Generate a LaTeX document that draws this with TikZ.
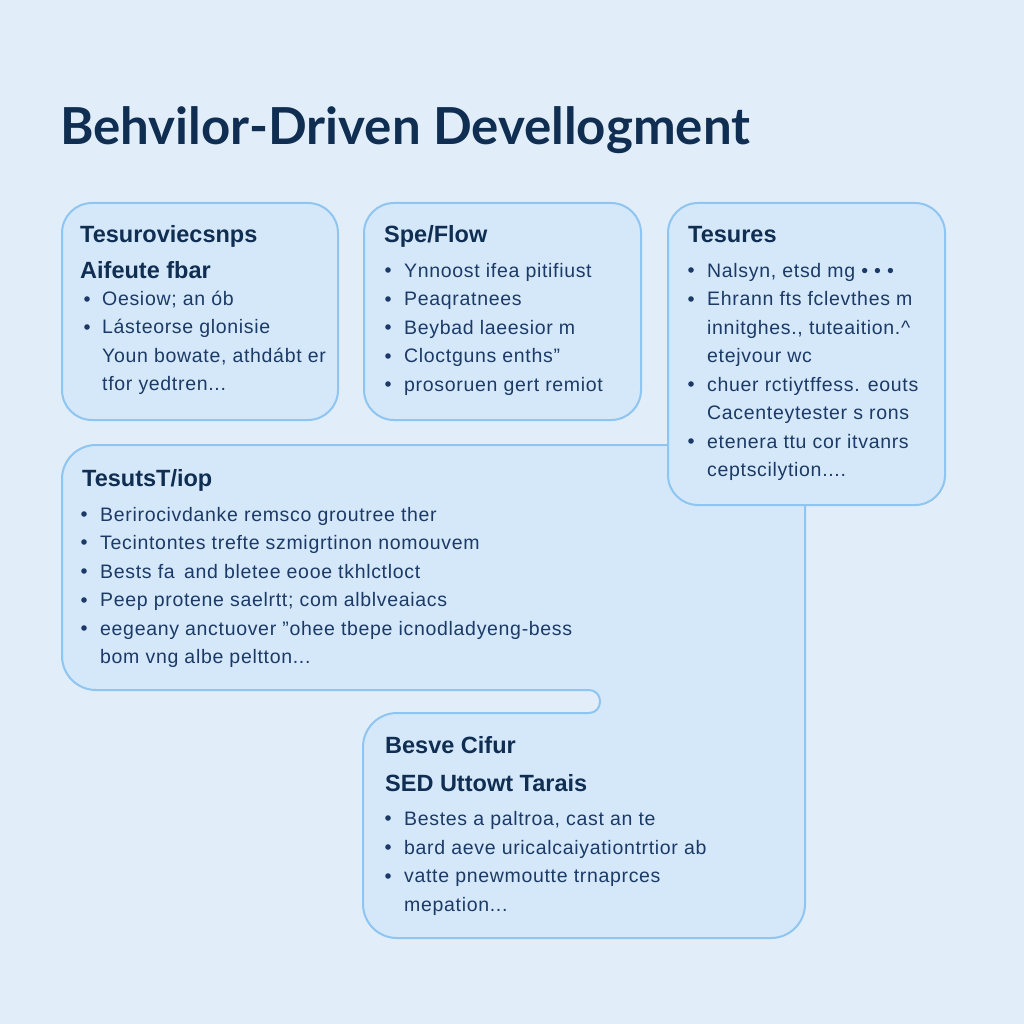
\documentclass[tikz,border=0pt]{standalone}
\usepackage{fontspec}
\setmainfont{Lato}
\newfontfamily\bodyfont[LetterSpace=3.5]{Liberation Sans}
\newfontfamily\headfont{Liberation Sans}
\definecolor{bgc}{HTML}{E1EDF9}
\definecolor{boxfill}{HTML}{D5E8FA}
\definecolor{boxline}{HTML}{8FC5F1}
\definecolor{headc}{HTML}{0F2E52}
\definecolor{bodyc}{HTML}{1B3A66}
\tikzset{
  card/.style={draw=boxline, fill=boxfill, line width=2pt},
  head/.style={anchor=base west, inner sep=0pt, text=headc, font=\headfont\fontsize{23.5}{26}\selectfont\bfseries},
  line/.style={anchor=base west, inner sep=0pt, text=bodyc, font=\bodyfont\fontsize{19.5}{22}\selectfont},
  dot/.style={fill=bodyc, draw=none},
}
\begin{document}
\begin{tikzpicture}[x=1pt,y=-1pt]
\fill[bgc] (0,0) rectangle (1024,1024);
\useasboundingbox (0,0) rectangle (1024,1024);

% title
\node[anchor=base west, inner sep=0pt, text=headc, font=\fontsize{51}{56}\selectfont\bfseries] (title) at (60,145) {Behvilor-Driven Devellogment};

% big merged shape (middle + bottom boxes)
\draw[card] (62,480) [rounded corners=34] -- (62,445) -- (805,445) -- (805,938) -- (363,938) -- (363,713) [rounded corners=11] -- (600,713) -- (600,690) [rounded corners=34] -- (62,690) [sharp corners] -- cycle;

% top cards
\draw[card, rounded corners=30] (62,203) rectangle (338,420);
\draw[card, rounded corners=30] (364,203) rectangle (641,420);
\draw[card, rounded corners=30] (668,203) rectangle (945,505);

% box 1
\node[head] (a0) at (80,242) {Tesuroviecsnps};
\node[head] (a1) at (80,278) {Aifeute fbar};
\fill[dot] (87,299) circle (2.8);
\node[line] (a2) at (102,305) {Oesiow; an ób};
\fill[dot] (87,327) circle (2.8);
\node[line] (a3) at (102,333) {Lásteorse glonisie};
\node[line] (a4) at (102,362) {Youn bowate, athdábt er};
\node[line] (a5) at (102,390) {tfor yedtren...};

% box 2
\node[head] (b0) at (384,242) {Spe/Flow};
\fill[dot] (388,270) circle (2.8);
\node[line] (b1) at (404,277) {Ynnoost ifea pitifiust};
\fill[dot] (388,299) circle (2.8);
\node[line] (b2) at (404,305) {Peaqratnees};
\fill[dot] (388,327) circle (2.8);
\node[line] (b3) at (404,334) {Beybad laeesior m};
\fill[dot] (388,356) circle (2.8);
\node[line] (b4) at (404,362) {Cloctguns enths”};
\fill[dot] (388,384) circle (2.8);
\node[line] (b5) at (404,391) {prosoruen gert remiot};

% box 3
\node[head] (c0) at (688,242) {Tesures};
\fill[dot] (691,270) circle (2.8);
\node[line] (c1) at (707,277) {Nalsyn, etsd mg • • •};
\fill[dot] (691,299) circle (2.8);
\node[line] (c2) at (707,305) {Ehrann fts fclevthes m};
\node[line] (c3) at (707,334) {innitghes., tuteaition.\^{}};
\node[line] (c4) at (707,362) {etejvour wc};
\fill[dot] (691,384) circle (2.8);
\node[line] (c5) at (707,391) {chuer rctiytffess. eouts};
\node[line] (c6) at (707,419) {Cacenteytester s rons};
\fill[dot] (691,441) circle (2.8);
\node[line] (c7) at (707,448) {etenera ttu cor itvanrs};
\node[line] (c8) at (707,476) {ceptscilytion....};

% middle box
\node[head] (d0) at (82,486) {TesutsT/iop};
\fill[dot] (84,514) circle (2.8);
\node[line] (d1) at (100,521) {Berirocivdanke remsco groutree ther};
\fill[dot] (84,542) circle (2.8);
\node[line] (d2) at (100,549) {Tecintontes trefte szmigrtinon nomouvem};
\fill[dot] (84,571) circle (2.8);
\node[line] (d3) at (100,578) {Bests fa\, and bletee eooe tkhlctloct};
\fill[dot] (84,600) circle (2.8);
\node[line] (d4) at (100,606) {Peep protene saelrtt; com alblveaiacs};
\fill[dot] (84,628) circle (2.8);
\node[line] (d5) at (100,635) {eegeany anctuover ”ohee tbepe icnodladyeng-bess};
\node[line] (d6) at (100,663) {bom vng albe peltton...};

% bottom box
\node[head] (e0) at (385,753) {Besve Cifur};
\node[head] (e1) at (385,791) {SED Uttowt Tarais};
\fill[dot] (388,818) circle (2.8);
\node[line] (e2) at (404,825) {Bestes a paltroa, cast an te};
\fill[dot] (388,847) circle (2.8);
\node[line] (e3) at (404,854) {bard aeve uricalcaiyationtrtior ab};
\fill[dot] (388,876) circle (2.8);
\node[line] (e4) at (404,882) {vatte pnewmoutte trnaprces};
\node[line] (e5) at (404,911) {mepation...};
\end{tikzpicture}
\end{document}
